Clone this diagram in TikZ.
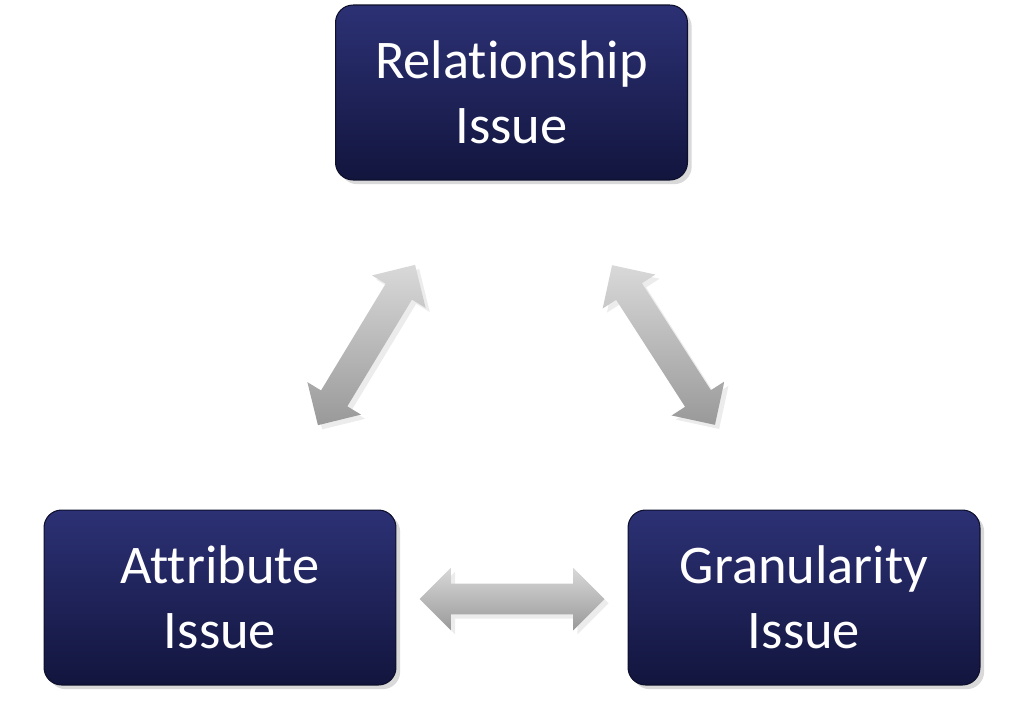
\documentclass[tikz,border=0pt]{standalone}
\usepackage{fontspec}
\setmainfont[Ligatures={NoCommon,NoContextual}]{Carlito}
\usetikzlibrary{shapes.arrows,shadows}
\definecolor{navytop}{HTML}{2C3175}
\definecolor{navybot}{HTML}{12153D}
\tikzset{
  issue/.style={rectangle, rounded corners=10pt, draw=navybot!70!black, line width=0.6pt,
    top color=navytop, bottom color=navybot, text=white, align=center,
    minimum width=7.04cm, minimum height=3.5cm,
    font=\fontsize{31}{37}\selectfont, drop shadow={opacity=0.3}},
  link/.style={double arrow, draw=none, top color=gray!30, bottom color=gray!80,
    double arrow head extend=0.32cm, inner xsep=0pt, inner ysep=0.3cm,
    minimum width=1.24cm, drop shadow={opacity=0.15}}
}
\begin{document}
\begin{tikzpicture}[x=0.02cm,y=-0.02cm]
  \useasboundingbox (0,0) rectangle (1024,708);
  \node[issue] (rel) at (511.5,92.5) {Relationship\\Issue};
  \node[issue] (att) at (220,597.5) {Attribute\\Issue};
  \node[issue] (gran) at (804,597.5) {Granularity\\Issue};

  \node[link, minimum height=3.7cm] (ag) at (512,599) {};
  \node[link, minimum height=3.75cm, rotate=58.8] (ar) at (366.5,345) {};
  \node[link, minimum height=3.8cm, rotate=-57.2] (rg) at (663.5,345) {};
\end{tikzpicture}
\end{document}
